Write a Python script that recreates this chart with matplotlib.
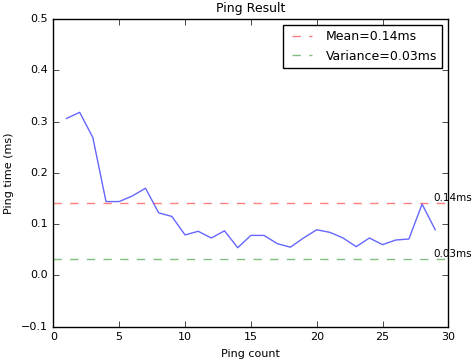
import numpy as np
import matplotlib
matplotlib.use('Agg')
import matplotlib.pyplot as plt

plt.style.use('classic')

ping_count = list(range(1, 30))
ping_time = [0.306, 0.318, 0.269, 0.144, 0.144, 0.155, 0.170, 0.122, 0.115, 0.079,
             0.086, 0.073, 0.087, 0.054, 0.078, 0.078, 0.062, 0.055, 0.073, 0.089,
             0.084, 0.073, 0.056, 0.073, 0.060, 0.069, 0.071, 0.139, 0.089]
mean_val = 0.142
variance_val = 0.032

fig = plt.figure(figsize=(4.74, 3.59), dpi=100)
ax = fig.add_axes([0.1125, 0.09, 0.8335, 0.857])

ax.plot(ping_count, ping_time, color='b', alpha=0.6, lw=1)
ax.axhline(mean_val, color='r', ls='--', alpha=0.5, label='Mean=%.2fms' % mean_val)
ax.axhline(variance_val, color='g', ls='--', alpha=0.5, label='Variance=%.2fms' % variance_val)
ax.text(28.85, mean_val, '%.2fms' % mean_val, fontsize=7.5, va='bottom', clip_on=False)
ax.text(28.85, variance_val, '%.2fms' % variance_val, fontsize=7.5, va='bottom', clip_on=False)

ax.set_xlim(0, 30)
ax.set_ylim(-0.1, 0.5)
ax.tick_params(labelsize=8)
ax.set_xlabel('Ping count', fontsize=8)
ax.set_ylabel('Ping time (ms)', fontsize=8)
ax.set_title('Ping Result', fontsize=9)
ax.legend(loc='upper right', fontsize=9, handlelength=2.2)

fig.savefig('out.png', dpi=100)
